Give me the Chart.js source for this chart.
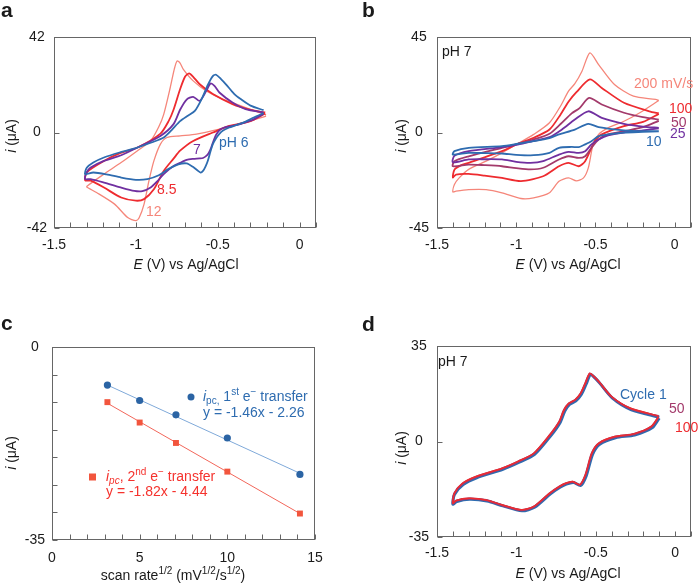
<!DOCTYPE html>
<html>
<head>
<meta charset="utf-8">
<script src="https://cdn.jsdelivr.net/npm/chart.js@4.4.1/dist/chart.umd.min.js"></script>
<style>
  body { margin: 0; background: #fff; width: 699px; height: 583px; position: relative; overflow: hidden; }
  canvas { position: absolute; }
</style>
</head>
<body>
<canvas id="chartA" width="350" height="290" style="left:0;top:0"></canvas>
<canvas id="chartB" width="349" height="290" style="left:350px;top:0"></canvas>
<canvas id="chartC" width="350" height="293" style="left:0;top:290px"></canvas>
<canvas id="chartD" width="349" height="293" style="left:350px;top:290px"></canvas>
<script>
const FONT = "'Liberation Sans', Arial, sans-serif";

// a: CVs at different pH, potential E (V) and current i (uA), lower branch then upper branch
const ph6E = [-0.22, -0.28, -0.33, -0.39, -0.43, -0.47, -0.49, -0.51, -0.53, -0.545, -0.56, -0.575, -0.59, -0.605, -0.625, -0.65, -0.69, -0.74, -0.80, -0.86, -0.93, -1.00, -1.09, -1.18, -1.26, -1.31,
  -1.30, -1.26, -1.195, -1.10, -0.99, -0.90, -0.83, -0.78, -0.73, -0.68, -0.64, -0.60, -0.56, -0.53, -0.51, -0.48, -0.45, -0.40, -0.36, -0.30, -0.22];
const ph6I = [8.6, 6.6, 4.8, 3.2, 2.2, 0.8, -0.6, -2.5, -5.1, -8.5, -12.3, -15.0, -16.9, -17.6, -16.6, -15.2, -13.6, -14.0, -16.0, -18.8, -20.5, -20.8, -19.8, -18.4, -17.6, -18.3,
  -15.5, -13.2, -11.0, -8.8, -6.6, -4.3, -2.2, 1.2, 5.0, 7.5, 9.5, 14.5, 21.0, 24.8, 25.4, 23.5, 21.2, 17.0, 14.7, 11.8, 9.8];
const ph7E = [-0.22, -0.30, -0.40, -0.46, -0.49, -0.51, -0.525, -0.54, -0.555, -0.57, -0.59, -0.61, -0.65, -0.69, -0.72, -0.77, -0.83, -0.87, -0.91, -0.96, -1.01, -1.10, -1.195, -1.276, -1.31,
  -1.30, -1.276, -1.195, -1.09, -0.99, -0.85, -0.77, -0.73, -0.69, -0.65, -0.61, -0.57, -0.545, -0.52, -0.49, -0.41, -0.33, -0.22];
const ph7I = [8.2, 5.2, 3.0, 2.2, 1.0, -1.0, -3.5, -6.6, -9.0, -10.3, -11.2, -11.4, -11.6, -12.0, -13.0, -14.7, -18.3, -21.5, -24.2, -25.8, -25.7, -24.0, -22.0, -20.5, -20.5,
  -17.5, -15.4, -12.5, -10.0, -6.6, -1.5, 3.7, 10.0, 14.5, 15.7, 13.9, 18.3, 21.5, 20.5, 17.6, 13.2, 10.3, 8.8];
const ph85E = [-0.21, -0.30, -0.43, -0.53, -0.65, -0.73, -0.77, -0.83, -0.89, -0.95, -1.00, -1.09, -1.195, -1.276, -1.31,
  -1.30, -1.195, -1.10, -0.99, -0.85, -0.80, -0.77, -0.73, -0.70, -0.675, -0.65, -0.61, -0.53, -0.41, -0.30, -0.21];
const ph85I = [8.4, 5.0, 2.9, 0.0, -3.7, -8.0, -11.5, -16.9, -25.0, -29.3, -30.0, -28.6, -24.2, -21.2, -21.0,
  -17.5, -12.5, -9.2, -6.6, -0.5, 5.0, 10.0, 19.0, 24.5, 26.0, 24.5, 21.2, 16.9, 12.5, 10.0, 8.8];
const ph12E = [-0.205, -0.33, -0.49, -0.63, -0.73, -0.81, -0.85, -0.89, -0.92, -0.95, -0.98, -1.00, -1.05, -1.13, -1.24, -1.30,
  -1.297, -1.195, -1.09, -0.99, -0.91, -0.86, -0.83, -0.79, -0.765, -0.748, -0.73, -0.71, -0.65, -0.57, -0.47, -0.33, -0.205];
const ph12I = [7.2, 4.4, 1.5, -0.7, -1.5, -2.2, -5.1, -12.5, -21.2, -31.5, -37.5, -38.8, -37.4, -31.5, -26.4, -24.0,
  -23.5, -18.3, -13.2, -8.0, -3.7, 2.5, 8.0, 19.8, 28.0, 31.5, 30.5, 27.8, 22.7, 18.3, 14.7, 11.0, 7.8];

// b: CVs at pH 7 for scan rates 10..200 mV/s
const v10E = [-0.10, -0.20, -0.32, -0.42, -0.48, -0.525, -0.565, -0.605, -0.65, -0.73, -0.79, -0.89, -1.00, -1.09, -1.20, -1.30, -1.40,
  -1.39, -1.30, -1.09, -0.99, -0.89, -0.79, -0.73, -0.63, -0.545, -0.48, -0.32, -0.20, -0.10];
const v10I = [0.6, 0.3, -0.1, -0.9, -1.7, -4.1, -5.6, -6.9, -6.8, -7.2, -9.6, -10.7, -10.5, -9.9, -9.7, -9.6, -10.4,
  -8.8, -7.2, -6.4, -5.3, -4.1, -2.6, -0.9, 1.4, 4.1, 2.5, 1.0, 0.6, 0.6];
const v25E = [-0.10, -0.20, -0.32, -0.42, -0.48, -0.525, -0.565, -0.605, -0.67, -0.73, -0.83, -0.91, -1.00, -1.09, -1.20, -1.30, -1.40,
  -1.39, -1.30, -1.10, -0.99, -0.89, -0.79, -0.71, -0.63, -0.545, -0.46, -0.32, -0.20, -0.10];
const v25I = [2.0, 1.0, 0.0, -1.3, -3.3, -5.6, -8.8, -9.6, -9.1, -10.4, -13.5, -14.3, -13.8, -12.7, -12.6, -12.7, -14.0,
  -11.0, -8.8, -7.0, -5.7, -4.0, -2.2, 1.5, 6.1, 10.0, 6.9, 4.1, 2.8, 2.2];
const v50E = [-0.10, -0.20, -0.32, -0.42, -0.48, -0.525, -0.565, -0.605, -0.67, -0.73, -0.83, -0.91, -1.00, -1.09, -1.20, -1.30, -1.40,
  -1.39, -1.30, -1.09, -0.99, -0.89, -0.79, -0.72, -0.65, -0.60, -0.54, -0.46, -0.32, -0.20, -0.10];
const v50I = [5.5, 2.5, 0.6, -0.9, -3.3, -7.2, -11.2, -12.0, -11.2, -12.7, -16.6, -17.4, -16.8, -15.9, -15.4, -15.1, -15.9,
  -13.5, -11.2, -7.2, -5.3, -3.3, -0.6, 4.0, 9.0, 11.5, 16.3, 13.2, 9.3, 7.2, 6.1];
const v100E = [-0.10, -0.20, -0.32, -0.46, -0.505, -0.525, -0.565, -0.605, -0.67, -0.73, -0.83, -0.97, -1.09, -1.20, -1.30, -1.38, -1.40,
  -1.39, -1.35, -1.30, -1.09, -0.99, -0.89, -0.79, -0.72, -0.67, -0.62, -0.535, -0.46, -0.32, -0.16, -0.10];
const v100I = [8.8, 5.0, 3.0, -0.9, -4.1, -7.2, -13.5, -15.9, -14.3, -15.9, -20.6, -22.9, -21.4, -20.3, -19.5, -19.8, -21.2,
  -17.5, -15.5, -14.3, -8.8, -5.3, -2.5, 1.4, 8.5, 14.5, 19.0, 25.0, 21.0, 14.0, 10.0, 9.0];
const v200E = [-0.10, -0.22, -0.32, -0.42, -0.48, -0.515, -0.545, -0.575, -0.62, -0.67, -0.73, -0.79, -0.89, -0.97, -1.09, -1.19, -1.30, -1.38, -1.40,
  -1.39, -1.36, -1.30, -1.19, -1.09, -0.99, -0.89, -0.79, -0.72, -0.67, -0.63, -0.585, -0.535, -0.48, -0.38, -0.26, -0.12, -0.10];
const v200I = [15.1, 9.3, 5.3, 2.2, -0.9, -5.7, -16.7, -21.4, -22.8, -21.4, -23.0, -28.4, -30.8, -31.1, -28.4, -26.9, -26.9, -27.6, -28.0,
  -24.5, -21.4, -17.4, -13.5, -9.6, -5.3, -0.9, 4.6, 12.5, 19.5, 23.0, 28.9, 37.5, 32.0, 22.6, 17.1, 15.6, 15.1];

// c: cathodic peak currents vs sqrt(scan rate)
const rootRate = [3.16, 5.0, 7.07, 10.0, 14.14];
const ipc1 = [-6.9, -9.7, -12.3, -16.5, -23.1];
const ipc2 = [-10.0, -13.7, -17.4, -22.6, -30.2];
const fitX = [3.16, 14.14];
const fit1 = [-6.9, -22.9];
const fit2 = [-10.2, -30.2];

// d: repeated cycling at pH 7
const cyc100E = [-0.105, -0.15, -0.26, -0.38, -0.48, -0.525, -0.565, -0.60, -0.645, -0.69, -0.73, -0.79, -0.89, -0.97, -1.09, -1.19, -1.30, -1.38, -1.40,
  -1.39, -1.34, -1.255, -1.09, -0.99, -0.89, -0.79, -0.73, -0.70, -0.67, -0.63, -0.595, -0.565, -0.538, -0.51, -0.48, -0.40, -0.28, -0.105];
const cyc100I = [9.0, 5.5, 2.8, 1.8, -0.6, -4.3, -12.2, -15.8, -14.7, -15.3, -16.5, -18.9, -23.8, -25.0, -23.2, -21.4, -20.8, -21.6, -22.6,
  -18.9, -15.3, -12.8, -9.8, -7.3, -4.3, 2.4, 7.3, 11.6, 14.0, 15.3, 17.7, 21.5, 25.0, 23.8, 22.0, 16.5, 12.2, 9.4];
const cyc50E = [-0.105, -0.15, -0.26, -0.38, -0.48, -0.525, -0.565, -0.60, -0.645, -0.69, -0.73, -0.79, -0.89, -0.97, -1.09, -1.19, -1.30, -1.38, -1.40,
  -1.39, -1.34, -1.255, -1.09, -0.99, -0.89, -0.79, -0.73, -0.70, -0.67, -0.63, -0.595, -0.565, -0.538, -0.51, -0.48, -0.40, -0.28, -0.105];
const cyc50I = [8.9, 5.4, 2.7, 1.7, -0.7, -4.4, -12.3, -15.9, -14.8, -15.4, -16.6, -19.0, -23.9, -25.2, -23.4, -21.5, -20.9, -21.7, -22.7,
  -19.0, -15.5, -13.0, -9.9, -7.4, -4.4, 2.3, 7.2, 11.5, 13.9, 15.2, 17.6, 21.4, 24.9, 23.6, 21.8, 16.3, 12.0, 9.3];
const cyc1E = [-0.10, -0.145, -0.255, -0.375, -0.475, -0.52, -0.56, -0.595, -0.64, -0.685, -0.725, -0.785, -0.885, -0.965, -1.085, -1.185, -1.295, -1.375, -1.40,
  -1.39, -1.335, -1.25, -1.085, -0.985, -0.885, -0.785, -0.725, -0.695, -0.665, -0.625, -0.59, -0.56, -0.533, -0.505, -0.475, -0.395, -0.275, -0.10];
const cyc1I = [8.6, 5.0, 2.4, 1.4, -1.0, -4.7, -12.6, -16.1, -15.0, -15.6, -16.8, -19.2, -24.1, -25.4, -23.6, -21.8, -21.2, -22.0, -23.0,
  -19.4, -15.8, -13.3, -10.2, -7.7, -4.7, 2.0, 6.9, 11.2, 13.6, 14.9, 17.3, 21.1, 24.6, 23.3, 21.4, 15.9, 11.6, 8.9];

const BLUE = '#2e6cb0', PURPLE = '#7030a0', MAROON = '#a33a6b', RED = '#ee2b2f', SALMON = '#f5867a', INK = '#1a1a1a';

function pts(xs, ys) {
  return xs.map((x, k) => ({ x: x, y: ys[k] }));
}

function curve(xs, ys, color, width) {
  return {
    data: pts(xs, ys), showLine: true, borderColor: color, backgroundColor: color,
    borderWidth: width, pointRadius: 0, tension: 0.25, fill: false
  };
}

function fontFor(style, size) {
  const italic = style === 'i' || style === 'isub';
  const small = style === 'sub' || style === 'isub' || style === 'sup';
  return (italic ? 'italic ' : '') + (small ? Math.round(size * 0.68) : size) + 'px ' + FONT;
}

// text with italic / sub / superscript parts: [[text, style], ...]
function drawRich(ctx, parts, x, y, align, size) {
  size = size || 14;
  let w = 0;
  parts.forEach(p => { ctx.font = fontFor(p[1], size); w += ctx.measureText(p[0]).width; });
  let cx = align === 'center' ? x - w / 2 : x;
  ctx.textAlign = 'left';
  ctx.textBaseline = 'middle';
  parts.forEach(p => {
    ctx.font = fontFor(p[1], size);
    let dy = 0;
    if (p[1] === 'sub' || p[1] === 'isub') dy = size * 0.3;
    if (p[1] === 'sup') dy = -size * 0.32;
    ctx.fillText(p[0], cx, y + dy);
    cx += ctx.measureText(p[0]).width;
  });
}

function frame(c) {
  return {
    id: 'frame' + c.letter,
    afterDraw(chart) {
      const ctx = chart.ctx, a = chart.chartArea;
      const xs = chart.scales.x, ys = chart.scales.y;
      ctx.save();
      ctx.strokeStyle = '#666';
      ctx.lineWidth = 1;
      const L = Math.round(a.left) + 0.5, T = Math.round(a.top) + 0.5;
      const R = Math.round(a.right) - 0.5, B = Math.round(a.bottom) - 0.5;
      ctx.strokeRect(L, T, R - L, B - T);
      ctx.beginPath();
      xs.ticks.forEach(t => {
        const px = Math.round(xs.getPixelForValue(t.value)) + 0.5;
        ctx.moveTo(px, B); ctx.lineTo(px, B - 5);
      });
      ys.ticks.forEach(t => {
        const py = Math.round(ys.getPixelForValue(t.value)) + 0.5;
        ctx.moveTo(L, py); ctx.lineTo(L + 5, py);
      });
      ctx.stroke();

      ctx.fillStyle = INK;
      ctx.font = 'bold 21px ' + FONT;
      ctx.textAlign = 'left';
      ctx.textBaseline = 'alphabetic';
      ctx.fillText(c.letter, c.letterX, c.letterY);

      drawRich(ctx, c.xTitle, c.xTitleX, c.xTitleY, 'center');
      ctx.save();
      ctx.translate(c.yTitleX, c.yTitleY);
      ctx.rotate(-Math.PI / 2);
      drawRich(ctx, [['i', 'i'], [' (\u03bcA)', '']], 0, 0, 'center');
      ctx.restore();

      (c.notes || []).forEach(n => {
        ctx.fillStyle = n.color;
        drawRich(ctx, n.parts, n.x, n.y, 'left');
      });
      if (c.extra) c.extra(ctx);
      ctx.restore();
    }
  };
}

function halfLabel(v) {
  return Math.abs(v * 2 - Math.round(v * 2)) < 1e-9 ? String(v) : '';
}

function build(id, c, datasets) {
  return new Chart(document.getElementById(id), {
    type: 'scatter',
    data: { datasets: datasets },
    options: {
      responsive: false,
      animation: false,
      events: [],
      layout: { padding: { left: 0, top: c.top, right: c.w - c.right, bottom: 0 } },
      plugins: { legend: { display: false }, tooltip: { enabled: false } },
      scales: {
        x: {
          type: 'linear', min: c.xMin, max: c.xMax,
          afterFit: s => { s.height = c.h - c.bottom; },
          grid: { display: false, drawTicks: false },
          border: { display: false },
          ticks: {
            stepSize: c.xStep, maxTicksLimit: 100, autoSkip: false, maxRotation: 0, minRotation: 0,
            padding: c.xPad, color: INK, font: { family: FONT, size: 14 }, callback: c.xLabel
          }
        },
        y: {
          type: 'linear', min: c.yMin, max: c.yMax,
          afterFit: s => { s.width = c.left; },
          grid: { display: false, drawTicks: false },
          border: { display: false },
          ticks: {
            stepSize: c.yStep, maxTicksLimit: 100, autoSkip: false, crossAlign: 'center',
            padding: c.yPad, color: INK, font: { family: FONT, size: 14 }, callback: c.yLabel
          }
        }
      }
    },
    plugins: [frame(c)]
  });
}

const cvTitle = [['E', 'i'], [' (V) vs Ag/AgCl', '']];

build('chartA', {
  letter: 'a', letterX: 1, letterY: 17, w: 350, h: 290, left: 54, right: 316, top: 37, bottom: 228,
  xMin: -1.5, xMax: 0.1, xStep: 0.1, xPad: 8.5, xLabel: halfLabel,
  yMin: -42, yMax: 42, yStep: 42, yPad: 7, yLabel: v => String(v),
  xTitle: cvTitle, xTitleX: 186, xTitleY: 265, yTitleX: 12, yTitleY: 136,
  notes: [
    { parts: [['pH 6', '']], x: 219, y: 143, color: BLUE },
    { parts: [['7', '']], x: 193, y: 150, color: PURPLE },
    { parts: [['8.5', '']], x: 157, y: 190, color: RED },
    { parts: [['12', '']], x: 146, y: 212, color: SALMON }
  ]
}, [
  curve(ph6E, ph6I, BLUE, 1.8),
  curve(ph7E, ph7I, PURPLE, 1.8),
  curve(ph85E, ph85I, RED, 1.8),
  curve(ph12E, ph12I, SALMON, 1.3)
]);

build('chartB', {
  letter: 'b', letterX: 12, letterY: 17, w: 349, h: 290, left: 87, right: 349, top: 37, bottom: 228,
  xMin: -1.5, xMax: 0.1, xStep: 0.1, xPad: 8.5, xLabel: halfLabel,
  yMin: -45, yMax: 45, yStep: 45, yPad: 8, yLabel: v => String(v),
  xTitle: cvTitle, xTitleX: 218, xTitleY: 265, yTitleX: 52, yTitleY: 136,
  notes: [
    { parts: [['pH 7', '']], x: 92, y: 52, color: INK },
    { parts: [['200 mV/s', '']], x: 284, y: 84, color: SALMON },
    { parts: [['100', '']], x: 319, y: 109, color: RED },
    { parts: [['50', '']], x: 321, y: 123, color: MAROON },
    { parts: [['25', '']], x: 320, y: 134, color: PURPLE },
    { parts: [['10', '']], x: 296, y: 142, color: BLUE }
  ]
}, [
  curve(v10E, v10I, BLUE, 1.8),
  curve(v25E, v25I, PURPLE, 1.8),
  curve(v50E, v50I, MAROON, 1.8),
  curve(v100E, v100I, RED, 1.8),
  curve(v200E, v200I, SALMON, 1.3)
]);

build('chartC', {
  letter: 'c', letterX: 1, letterY: 40, w: 350, h: 293, left: 52, right: 315, top: 57, bottom: 250,
  xMin: 0, xMax: 15, xStep: 1, xPad: 9.5, xLabel: v => (v % 5 === 0 ? String(v) : ''),
  yMin: -35, yMax: 0, yStep: 5, yPad: 7, yLabel: v => (v === 0 || v === -35 ? String(v) : ''),
  xTitle: [['scan rate', ''], ['1/2', 'sup'], [' (mV', ''], ['1/2', 'sup'], ['/s', ''], ['1/2', 'sup'], [')', '']],
  xTitleX: 173, xTitleY: 286, yTitleX: 12, yTitleY: 163,
  notes: [
    { parts: [['i', 'i'], ['pc,', 'sub'], [' 1', ''], ['st', 'sup'], [' e', ''], ['\u2212', 'sup'], [' transfer', '']], x: 203, y: 107, color: BLUE },
    { parts: [['y = -1.46x - 2.26', '']], x: 203, y: 123, color: BLUE },
    { parts: [['i', 'i'], ['pc', 'isub'], [', 2', ''], ['nd', 'sup'], [' e', ''], ['\u2212', 'sup'], [' transfer', '']], x: 106, y: 187, color: '#f5322d' },
    { parts: [['y = -1.82x - 4.44', '']], x: 106, y: 202, color: '#f5322d' }
  ],
  extra: ctx => {
    ctx.fillStyle = '#2b64a4';
    ctx.beginPath(); ctx.arc(191, 107, 3.5, 0, Math.PI * 2); ctx.fill();
    ctx.fillStyle = '#f2553d';
    ctx.fillRect(89, 183.5, 7, 7);
  }
}, [
  { data: pts(rootRate, ipc1), pointStyle: 'circle', pointRadius: 3.6, backgroundColor: '#2b64a4', borderColor: '#2b64a4', borderWidth: 0 },
  { data: pts(rootRate, ipc2), pointStyle: 'rect', pointRadius: 4.2, backgroundColor: '#f2553d', borderColor: '#f2553d', borderWidth: 0 },
  { data: pts(fitX, fit1), showLine: true, pointRadius: 0, borderColor: '#7fa9d9', borderWidth: 1 },
  { data: pts(fitX, fit2), showLine: true, pointRadius: 0, borderColor: '#f2665a', borderWidth: 1 }
]);

build('chartD', {
  letter: 'd', letterX: 12, letterY: 41, w: 349, h: 293, left: 87, right: 349, top: 56, bottom: 247,
  xMin: -1.5, xMax: 0.1, xStep: 0.1, xPad: 8, xLabel: halfLabel,
  yMin: -35, yMax: 35, yStep: 35, yPad: 8, yLabel: v => String(v),
  xTitle: cvTitle, xTitleX: 218, xTitleY: 284, yTitleX: 52, yTitleY: 158,
  notes: [
    { parts: [['pH 7', '']], x: 88, y: 72, color: INK },
    { parts: [['Cycle 1', '']], x: 270, y: 105, color: BLUE },
    { parts: [['50', '']], x: 319, y: 119, color: MAROON },
    { parts: [['100', '']], x: 325, y: 138, color: RED }
  ]
}, [
  curve(cyc100E, cyc100I, RED, 1.5),
  curve(cyc50E, cyc50I, MAROON, 2.2),
  curve(cyc1E, cyc1I, BLUE, 3)
]);
</script>
</body>
</html>
